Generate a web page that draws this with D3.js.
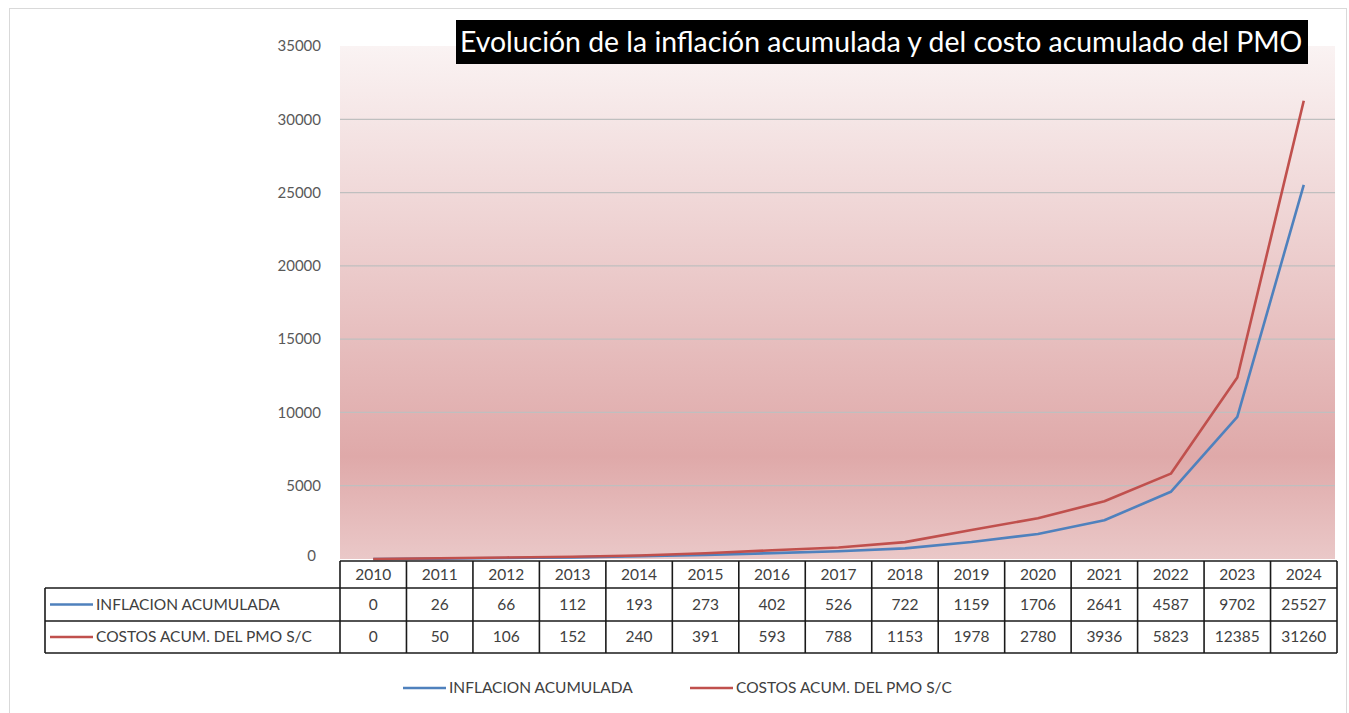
<!DOCTYPE html>
<html>
<head>
  <meta charset="utf-8">
  <title>Evolución de la inflación acumulada</title>
  <style>
    body { margin: 0; background: #fff; }
    svg { display: block; font-family: Lato, "Liberation Sans", sans-serif; }
  </style>
</head>
<body>
  <svg width="1349" height="713"></svg>
  <script src="https://cdn.jsdelivr.net/npm/d3@7"></script>
  <script>
  // datos
  var years = ["2010", "2011", "2012", "2013", "2014", "2015", "2016", "2017",
               "2018", "2019", "2020", "2021", "2022", "2023", "2024"];
  var inflacion = [0, 26, 66, 112, 193, 273, 402, 526, 722, 1159, 1706, 2641, 4587, 9702, 25527];
  var costos = [0, 50, 106, 152, 240, 391, 593, 788, 1153, 1978, 2780, 3936, 5823, 12385, 31260];
  var seriesNames = ["INFLACION ACUMULADA", "COSTOS ACUM. DEL PMO S/C"];
  var yTicks = [0, 5000, 10000, 15000, 20000, 25000, 30000, 35000];
  var titulo = "Evolución de la inflación acumulada y del costo acumulado del PMO";

  var colors = ["#4f81bd", "#c0504d"];
  var series = [inflacion, costos];

  var svg = d3.select("svg");
  var plotLeft = 340, plotRight = 1337, plotTop = 46, plotBottom = 559;

  // marco exterior
  svg.append("rect")
    .attr("x", 9.5).attr("y", 8.5)
    .attr("width", 1337).attr("height", 720)
    .attr("fill", "none").attr("stroke", "#d9d9d9");

  var x = d3.scaleBand().domain(years).range([plotLeft, plotRight]);
  var y = d3.scaleLinear().domain([0, 35000]).range([plotBottom, plotTop]);

  // fondo degradado
  var grad = svg.append("defs").append("linearGradient")
    .attr("id", "bg").attr("x1", 0).attr("y1", 0).attr("x2", 0).attr("y2", 1);
  grad.append("stop").attr("offset", "0%").attr("stop-color", "#faf3f3");
  grad.append("stop").attr("offset", "80%").attr("stop-color", "#dfa9a9");
  grad.append("stop").attr("offset", "100%").attr("stop-color", "#eac8c8");

  svg.append("rect")
    .attr("x", plotLeft).attr("y", plotTop)
    .attr("width", plotRight - plotLeft - 2).attr("height", plotBottom - plotTop)
    .attr("fill", "url(#bg)");

  // rejilla
  svg.append("g").selectAll("line")
    .data(yTicks.filter(function(d) { return d > 0 && d < 35000; }))
    .enter().append("line")
    .attr("x1", plotLeft).attr("x2", plotRight - 2)
    .attr("y1", function(d) { return y(d); })
    .attr("y2", function(d) { return y(d); })
    .attr("stroke", "#bfbfbf").attr("stroke-width", 1.2);

  // eje y
  var yAxis = svg.append("g")
    .attr("transform", "translate(" + (plotLeft - 19) + ",0)")
    .call(d3.axisLeft(y).tickValues(yTicks).tickFormat(d3.format("d"))
      .tickSize(0).tickPadding(0));
  yAxis.select(".domain").remove();
  yAxis.selectAll("text")
    .attr("fill", "#595959")
    .style("font-size", "15px")
    .style("font-family", "Lato, sans-serif");
  yAxis.selectAll(".tick").filter(function(d) { return d === 0; })
    .select("text").attr("dy", "0.1em").attr("x", -5);

  // lineas
  var line = d3.line()
    .x(function(d, i) { return x(years[i]) + x.bandwidth() / 2; })
    .y(function(d) { return y(d); });

  series.forEach(function(s, k) {
    svg.append("path")
      .datum(s)
      .attr("d", line)
      .attr("fill", "none")
      .attr("stroke", colors[k])
      .attr("stroke-width", 2.6)
      .attr("stroke-linejoin", "round");
  });

  // tabla de datos
  var rowY = [561, 588, 621, 653];
  var table = svg.append("g");
  var cellFill = "#404040", cellSize = "15.5px";

  // cabecera de años
  table.selectAll(".hdr")
    .data(years).enter().append("text")
    .attr("x", function(d) { return x(d) + x.bandwidth() / 2; })
    .attr("y", (rowY[0] + rowY[1]) / 2)
    .attr("dy", "0.35em")
    .attr("text-anchor", "middle")
    .attr("fill", cellFill)
    .style("font-size", cellSize)
    .text(function(d) { return d; });

  series.forEach(function(s, k) {
    var cy = (rowY[k + 1] + rowY[k + 2]) / 2;
    table.append("g").selectAll("text")
      .data(s).enter().append("text")
      .attr("x", function(d, i) { return x(years[i]) + x.bandwidth() / 2; })
      .attr("y", cy)
      .attr("dy", "0.35em")
      .attr("text-anchor", "middle")
      .attr("fill", cellFill)
      .style("font-size", cellSize)
      .text(function(d) { return d; });
    table.append("line")
      .attr("x1", 50).attr("x2", 93)
      .attr("y1", cy).attr("y2", cy)
      .attr("stroke", colors[k]).attr("stroke-width", 2.6);
    table.append("text")
      .attr("x", 96).attr("y", cy).attr("dy", "0.35em")
      .attr("fill", cellFill)
      .style("font-size", cellSize)
      .text(seriesNames[k]);
  });

  // bordes de la tabla
  var borders = table.append("g")
    .attr("stroke", "#1a1a1a").attr("stroke-width", 1.6);
  borders.append("line").attr("x1", plotLeft).attr("x2", plotRight).attr("y1", rowY[0]).attr("y2", rowY[0]);
  [1, 2, 3].forEach(function(r) {
    borders.append("line").attr("x1", 45).attr("x2", plotRight).attr("y1", rowY[r]).attr("y2", rowY[r]);
  });
  borders.append("line").attr("x1", 45).attr("x2", 45).attr("y1", rowY[1]).attr("y2", rowY[3]);
  years.forEach(function(d) {
    borders.append("line").attr("x1", x(d)).attr("x2", x(d)).attr("y1", rowY[0]).attr("y2", rowY[3]);
  });
  borders.append("line").attr("x1", plotRight).attr("x2", plotRight).attr("y1", rowY[0]).attr("y2", rowY[3]);

  // leyenda inferior
  var legX = [403, 690];
  var legend = svg.append("g");
  seriesNames.forEach(function(name, k) {
    legend.append("line")
      .attr("x1", legX[k]).attr("x2", legX[k] + 43)
      .attr("y1", 688).attr("y2", 688)
      .attr("stroke", colors[k]).attr("stroke-width", 2.6);
    legend.append("text")
      .attr("x", legX[k] + 46).attr("y", 688).attr("dy", "0.35em")
      .attr("fill", "#404040")
      .style("font-size", "15.5px")
      .text(name);
  });

  // titulo
  svg.append("rect")
    .attr("x", 456).attr("y", 20)
    .attr("width", 852).attr("height", 44)
    .attr("fill", "#000");
  svg.append("text")
    .attr("x", 460).attr("y", 42).attr("dy", "0.35em")
    .attr("fill", "#fff")
    .style("font-size", "28.4px")
    .text(titulo);
  </script>
</body>
</html>
